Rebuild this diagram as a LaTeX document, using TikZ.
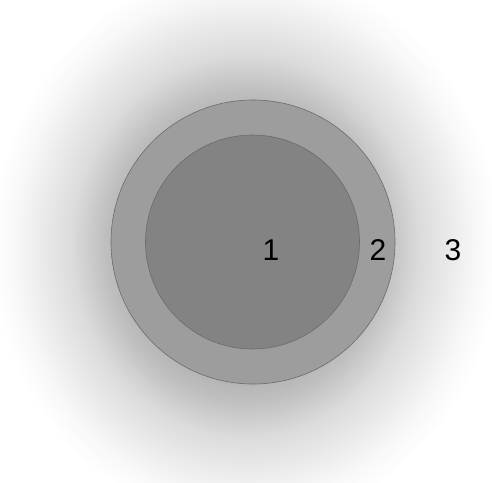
\documentclass[tikz,border=0pt]{standalone}
\usepackage{fontspec}
\setmainfont{Liberation Sans}
\usetikzlibrary{positioning}

\definecolor{shellgray}{gray}{0.615}
\definecolor{coregray}{gray}{0.515}

\begin{document}
\begin{tikzpicture}[x=1pt, y=-1pt,
  disc/.style={draw=black!58, line width=0.6pt},
  lbl/.style={font=\fontsize{30}{36}\selectfont, inner sep=0pt}]

  \useasboundingbox (0,0) rectangle (492,482);
  \fill[white] (0,0) rectangle (492,482);

  % soft halo round the discs, as rings from outside in
  \begin{scope}
    \clip (0,0) rectangle (492,482);
    \foreach \r in {256,254,...,110} {
      \pgfmathsetmacro\shadepct{\r<142 ? 25+(142-\r)*8/32 :
        (\r<175 ? 14+(175-\r)*11/33 :
        (\r<205 ? 8+(205-\r)*6/30 :
        (\r<230 ? 3+(230-\r)*5/25 : max(0,(255-\r)*3/25))))}
      \fill[black!\shadepct] (246,246) ellipse [x radius=\r, y radius=1.1*\r];
    }
  \end{scope}

  % outer shell and core
  \fill[shellgray, disc] (253,242) circle (142);
  \fill[coregray, disc]  (252.5,242) circle (107);

  \node[lbl] (one)   at (271,250) {1};
  \node[lbl] (two)   at (378,250) {2};
  \node[lbl] (three) at (453,250) {3};
\end{tikzpicture}
\end{document}
